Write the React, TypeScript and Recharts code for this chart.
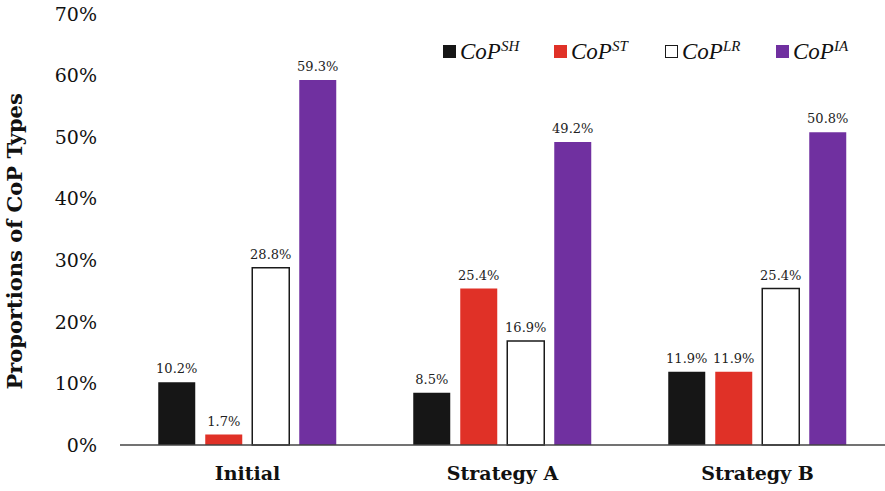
import React from "react";
import { BarChart, Bar, XAxis, YAxis, LabelList } from "recharts";

const categories = ["Initial", "Strategy A", "Strategy B"];
const copSH = [10.2, 8.5, 11.9];
const copST = [1.7, 25.4, 11.9];
const copLR = [28.8, 16.9, 25.4];
const copIA = [59.3, 49.2, 50.8];
const yTicks = [0, 10, 20, 30, 40, 50, 60, 70];

const series = [
  { key: "sh", sup: "SH", values: copSH, fill: "#161616", stroke: "#161616" },
  { key: "st", sup: "ST", values: copST, fill: "#e03127", stroke: "#e03127" },
  { key: "lr", sup: "LR", values: copLR, fill: "#ffffff", stroke: "#1a1a1a" },
  { key: "ia", sup: "IA", values: copIA, fill: "#7030a0", stroke: "#7030a0" },
];

const data = categories.map((name, i) => {
  const row: Record<string, string | number> = { name };
  series.forEach((s) => {
    row[s.key] = s.values[i];
  });
  return row;
});

const FONT = "'DejaVu Serif', 'Liberation Serif', serif";

// legend sits over the plot, top-right, without taking space from it
const LegendBox = () => (
  <div
    style={{
      position: "absolute",
      left: 443,
      top: 38,
      display: "flex",
      fontFamily: "'Liberation Serif', serif",
    }}
  >
    {series.map((s) => (
      <div
        key={s.key}
        style={{ display: "flex", alignItems: "center", width: 111 }}
      >
        <span
          style={{
            display: "inline-block",
            width: 13,
            height: 13,
            background: s.fill,
            border: `1px solid ${s.stroke}`,
            marginRight: 4,
            boxSizing: "border-box",
          }}
        />
        <span style={{ fontStyle: "italic", fontSize: 23, color: "#111" }}>
          CoP
          <sup style={{ fontSize: 15, verticalAlign: 8 }}>{s.sup}</sup>
        </span>
      </div>
    ))}
  </div>
);

export default function App() {
  return (
    <div
      style={{
        position: "absolute",
        left: 0,
        top: 0,
        width: 885,
        height: 491,
        background: "#fff",
      }}
    >
      <BarChart
        width={885}
        height={491}
        data={data}
        margin={{ top: 14, right: 0, bottom: 0, left: 0 }}
        barCategoryGap="15%"
        barGap={10}
      >
        <XAxis
          dataKey="name"
          height={46}
          tickLine={false}
          axisLine={{ stroke: "#444", strokeWidth: 1.5 }}
          tickMargin={16}
          tick={{ fill: "#111", fontSize: 19, fontWeight: 700, fontFamily: FONT }}
        />
        <YAxis
          width={120}
          domain={[0, 70]}
          ticks={yTicks}
          interval={0}
          axisLine={false}
          tickLine={false}
          tickMargin={17}
          tickFormatter={(v: number) => `${v}%`}
          tick={{ fill: "#111", fontSize: 19, fontFamily: FONT }}
          label={{
            value: "Proportions of CoP Types",
            angle: -90,
            position: "insideLeft",
            dx: 10,
            dy: 160,
            style: {
              fill: "#111",
              fontSize: 21,
              fontWeight: 700,
              fontFamily: FONT,
            },
          }}
        />
        {series.map((s) => (
          <Bar
            key={s.key}
            dataKey={s.key}
            fill={s.fill}
            stroke={s.stroke}
            strokeWidth={s.key === "lr" ? 1.5 : 0}
            isAnimationActive={false}
          >
            <LabelList
              dataKey={s.key}
              position="top"
              offset={9}
              formatter={(v: number) => `${v}%`}
              style={{ fill: "#222", fontSize: 13, fontFamily: FONT }}
            />
          </Bar>
        ))}
      </BarChart>
      <LegendBox />
    </div>
  );
}
